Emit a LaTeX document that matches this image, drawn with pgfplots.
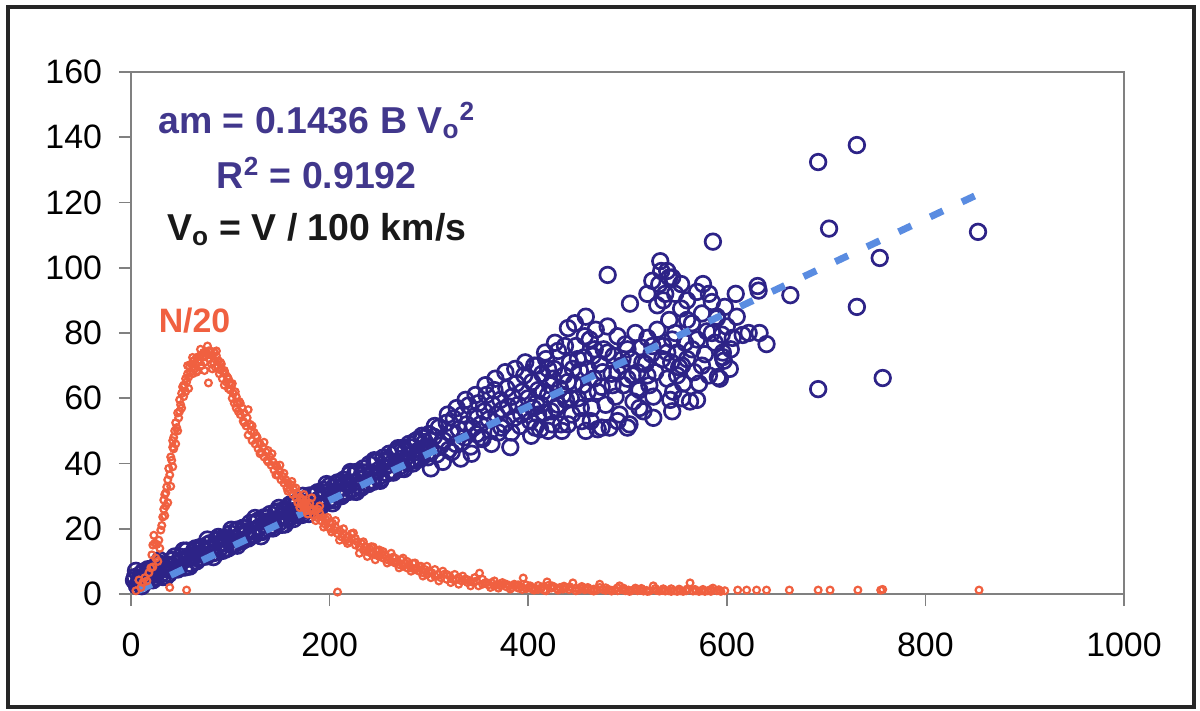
\documentclass[border=0pt]{standalone}
\usepackage{fontspec}
\setmainfont{Liberation Sans}
\usepackage{pgfplots}
\pgfplotsset{compat=1.18}
\definecolor{navy}{RGB}{45,35,135}
\definecolor{coral}{RGB}{240,96,64}
\definecolor{trend}{RGB}{90,140,225}
\definecolor{eqc}{RGB}{65,55,140}
\definecolor{axgray}{RGB}{128,128,128}
\begin{document}
\begin{tikzpicture}
\useasboundingbox (-65.5bp,-58.5bp) rectangle (534.5bp,297bp);
\draw[line width=1.6bp, black!85] (-61.5bp,-56.5bp) rectangle (531.5bp,293.5bp);
\begin{axis}[
 scale only axis, width=496.5bp, height=261bp,
 xmin=0, xmax=1000, ymin=0, ymax=160,
 xtick={0,200,...,1000}, ytick={0,20,...,160},
 tick align=outside, tick pos=left,
 major tick length=6bp,
 axis line style={axgray, line width=0.8bp},
 every tick/.style={axgray, line width=0.8bp},
 tick label style={font=\fontsize{17}{18}\selectfont, black},
 xticklabel style={yshift=-10bp},
 yticklabel style={xshift=-5bp},
 /pgf/number format/assume math mode=true,
 /pgf/number format/1000 sep={},
 clip=false, clip marker paths=true,
]
% blue: am data
\addplot[only marks, mark=o, mark size=3.9bp, navy, line width=1.35bp] coordinates {
(4,5.2) (6,2.5) (8,3.6) (10,6.1) (12,6.8) (14,4.0) (16,4.0) (18,6.9) (20,6.5) (22,4.2)
(24,6.0) (26,9.0) (28,9.5) (30,6.0) (32,5.2) (34,8.0) (36,9.1) (38,6.1) (40,7.2) (42,10.5)
(44,11.5) (46,8.2) (48,8.0) (50,11.4) (52,10.6) (54,8.1) (56,13.3) (58,11.6) (60,9.2) (62,11.2)
(64,13.5) (66,10.0) (68,10.8) (70,14.4) (72,14.2) (74,12.0) (76,11.5) (78,15.3) (80,15.6) (82,12.5)
(84,12.6) (86,16.5) (88,17.5) (90,14.2) (92,13.2) (94,17.2) (96,16.8) (98,14.0) (100,18.5) (102,15.0)
(104,15.2) (106,19.5) (108,19.8) (110,16.5) (112,16.2) (114,20.2) (116,19.2) (118,17.0) (120,21.8) (122,18.4)
(124,18.0) (126,22.0) (128,22.5) (130,19.2) (132,19.0) (134,23.5) (136,22.2) (138,20.0) (140,24.5) (142,21.0)
(144,20.4) (146,25.0) (148,25.3) (150,22.0) (152,21.2) (154,25.8) (156,25.4) (158,23.0) (160,27.4) (162,23.8)
(164,23.0) (166,27.8) (168,28.3) (170,25.0) (172,24.2) (174,29.0) (176,28.0) (178,25.6) (180,30.2) (182,26.8)
(184,26.0) (186,30.6) (188,31.2) (190,27.5) (192,27.2) (194,31.9) (196,31.0) (198,28.5) (200,33.2) (202,29.4)
(204,28.8) (206,33.5) (208,34.2) (210,30.2) (212,30.0) (214,35.0) (216,34.0) (218,31.2) (220,36.6) (222,32.0)
(224,31.4) (226,37.2) (228,37.5) (230,33.0) (232,32.6) (234,38.5) (236,37.2) (238,34.0) (240,39.8) (242,34.8)
(244,34.4) (246,40.5) (248,40.8) (250,36.0) (252,35.4) (254,41.8) (256,40.5) (258,37.0) (260,43.0) (262,37.8)
(264,37.2) (266,43.5) (268,44.0) (270,39.0) (272,38.4) (274,44.8) (276,43.8) (278,40.2) (280,46.0) (282,40.8)
(284,40.0) (286,46.8) (288,47.2) (290,42.0) (292,41.5) (294,47.8) (296,46.6) (298,43.0) (300,49.0) (302,43.5)
(3,4.2) (9,4.8) (15,5.5) (21,6.2) (27,7.0) (33,7.6) (39,8.4) (45,9.3) (51,10.0) (57,10.8)
(63,11.6) (69,12.4) (75,13.2) (81,14.0) (87,14.8) (93,15.6) (99,16.4) (105,17.2) (111,18.0) (117,18.8)
(123,19.6) (129,20.5) (135,21.3) (141,22.1) (147,23.0) (153,23.8) (159,24.6) (165,25.5) (171,26.4) (177,27.2)
(183,28.1) (189,29.0) (195,29.8) (201,30.7) (207,31.6) (213,32.5) (219,33.4) (225,34.3) (231,35.2) (237,36.1)
(243,37.0) (249,37.9) (255,38.8) (261,39.7) (267,40.6) (273,41.5) (279,42.4) (285,43.4) (291,44.3) (297,45.2)
(5,7.1) (11,2.4) (17,7.6) (23,4.9) (29,10.4) (35,5.2) (41,10.3) (47,7.5) (53,13.3) (59,8.4)
(65,14.0) (71,11.2) (77,16.7) (83,11.3) (89,16.8) (95,13.6) (101,19.7) (107,14.8) (113,20.3) (119,17.5)
(125,23.3) (131,17.7) (137,23.3) (143,20.1) (149,26.4) (155,21.3) (161,27.0) (167,24.2) (173,30.1) (179,24.5)
(185,30.2) (191,26.8) (197,33.7) (203,27.8) (209,34.1) (215,30.9) (221,37.4) (227,31.3) (233,37.3) (239,33.7)
(245,41.0) (251,34.7) (257,41.1) (263,37.9) (269,44.7) (275,38.3) (281,45.0) (287,40.9) (293,48.5) (299,41.9)
(305,48.2) (308,42.8) (310,51.0) (312,45.5) (315,47.0) (318,52.5) (320,44.2) (322,49.5) (325,53.8) (327,46.0)
(330,50.5) (332,41.5) (334,55.0) (336,48.0) (338,52.0) (340,57.8) (342,45.2) (344,50.8) (346,54.5) (348,49.0)
(350,58.5) (352,52.0) (354,47.5) (356,56.0) (358,61.0) (360,53.5) (362,50.0) (364,58.0) (366,62.5) (368,55.0)
(370,49.5) (372,59.5) (374,56.5) (376,52.0) (378,63.0) (380,57.5) (382,45.0) (384,60.5) (386,54.0) (388,64.5)
(390,58.0) (392,51.5) (394,62.0) (396,67.0) (398,56.0) (400,60.0) (402,53.0) (404,65.0) (406,70.0) (408,58.5)
(410,62.5) (412,50.5) (414,67.5) (416,55.5) (418,72.0) (420,61.0) (422,64.0) (424,52.0) (426,69.0) (428,57.0)
(430,74.5) (432,63.0) (434,50.0) (436,67.0) (438,59.5) (440,81.5) (442,71.0) (444,55.0) (446,64.5) (448,76.0)
(450,60.0) (452,68.5) (454,53.0) (456,72.5) (458,85.0) (460,62.0) (462,78.0) (464,57.0) (466,66.0) (468,81.0)
(470,50.5) (472,70.5) (474,63.5) (476,75.0) (478,58.0) (480,97.8) (480,82.0) (482,51.0) (484,67.5) (486,73.0)
(488,60.5) (490,79.0) (492,55.0) (494,70.0) (496,64.0) (498,76.5) (500,66.0) (502,52.0) (502.5,89.0) (504,72.0)
(506,59.0) (508,80.0) (510,68.0) (512,62.5) (514,75.5) (516,56.0) (518,70.5) (520,78.5) (522,64.0) (524,73.5)
(526,60.5) (528,68.0) (530,88.5) (532,95.0) (533,102.0) (534,99.0) (536,76.0) (538,92.0) (540,66.0) (542,84.0)
(544,71.0) (545,97.0) (546,62.0) (548,80.0) (550,74.0) (552,69.5) (554,87.5) (556,64.5) (558,77.0) (560,72.0)
(563,59.0) (565,83.0) (567,68.0) (570,92.6) (570,78.0) (572,64.5) (575,86.0) (578,73.5) (580,80.5) (582,67.0)
(585,89.5) (586,108.0) (588,77.0) (590,84.5) (593,66.0) (595,79.5) (597,71.5) (600,82.0) (603,69.0) (606,78.5)
(405,57) (415,62) (425,66) (435,61) (445,69) (455,64) (465,73) (475,68) (485,64) (495,72)
(505,67) (515,71) (525,76) (535,72) (545,78) (555,70) (565,75) (575,70) (585,80) (410,55)
(420,69) (430,58) (440,65) (450,72) (460,69) (470,62) (480,74) (490,68) (500,75) (510,63)
(520,67) (530,81) (540,74) (550,67) (560,84) (407,51) (420,50) (440,52) (458,50) (474,51)
(490,53) (500,51) (512,57) (526,54) (545,56) (555,60) (520,92) (525,96) (536,90) (540,99)
(548,92) (554,95) (560,90) (542,97) (576,95) (582,92) (590,85) (598,88) (604,75) (610,85)
(543,59.5) (570,59.5) (591,66.5) (596,72.6) (596,74.0)
(302,38.5) (306,51.5) (314,40.5) (319,55.0) (323,43.5) (328,57.0) (333,46.5) (337,59.5) (343,43.0) (347,61.0)
(353,48.0) (357,64.0) (363,46.0) (367,66.0) (373,51.0) (377,68.0) (383,49.5) (387,69.0) (393,55.0) (397,71.0)
(403,48.5) (409,70.0) (413,58.0) (417,74.0) (423,56.0) (427,77.0) (433,52.0) (437,76.0) (443,60.0) (447,83.0)
(453,57.0) (457,79.0) (463,53.0) (467,75.0)
(609,92) (622,80) (616,79.4) (633,80) (631,94.4) (632,93) (640,76.6) (664,91.6)
(692,132.4) (731,137.6) (703,112) (754,103) (731,88) (692,62.8) (757,66.2) (853,111)
};
% trend line
\addplot[trend, line width=3.5bp, dash pattern=on 7bp off 10.5bp] coordinates {(8,1.15) (853,122.5)};
% red: N/20
\addplot[only marks, mark=o, mark size=1.7bp, coral, line width=1.1bp] coordinates {
(5,1.0) (8,4.3) (10,2.0) (12,3.5) (14,5.0) (16,4.0) (18,6.5) (20,8.0) (22,8.3) (22,15.0)
(24,15.6) (25,11.0) (26,15.2) (27,10.0) (28,16.5) (30,19.6) (31,21.0) (32,23.6) (33,26.0) (33,28.8)
(34,30.5) (35,27.0) (36,32.8) (37,35.0) (38,38.5) (39,36.5) (39,2.0) (40,42.0) (41,41.0) (42,45.0)
(42,47.0) (43,44.5) (44,50.0) (45,52.5) (46,51.0) (47,55.5) (48,54.0) (49,59.5) (50,58.0) (51,61.5)
(52,63.5) (53,60.5) (54,64.0) (55,66.0) (56,1.2) (56,65.0) (57,67.5) (58,66.5) (59,69.6) (60,68.0)
(61,70.5) (62,67.5) (63,71.5) (64,69.0) (65,70.5) (66,72.5) (67,68.5) (68,71.0) (69,71.7) (70,73.0)
(71,70.0) (72,72.5) (73,74.0) (74,71.0) (75,73.0) (76,73.8) (77,76.0) (78,64.7) (79,72.0) (80,74.5)
(81,70.5) (82,73.0) (83,71.0) (84,74.0) (85,69.5) (86,73.0) (87,70.0) (88,71.5) (89,67.5) (90,68.7)
(91,70.5) (92,66.0) (93,68.0) (94,64.0) (95,67.5) (96,65.0) (97,66.5) (98,63.0) (99,64.5) (100,62.5)
(101,64.0) (102,60.0) (103,61.5) (104,58.5) (105,62.0) (106,57.0) (107,58.5) (108,56.0) (109,59.0) (110,55.0)
(112,57.0) (113,53.0) (114,55.5) (116,51.5) (117,54.0) (118,48.7) (120,52.0) (121,50.0) (122,47.0) (124,49.5)
(125,46.0) (127,48.0) (128,44.5) (130,46.0) (131,43.5) (133,45.0) (134,42.0) (136,43.5) (137,41.0) (138,44.0)
(140,42.0) (141,39.5) (143,40.5) (144,38.0) (146,39.5) (147,39.0) (148,36.5) (150,37.5) (151,35.0) (153,36.0)
(154,34.0) (156,35.0) (157,32.5) (158,34.0) (160,32.0) (161,33.5) (163,30.5) (164,32.0) (166,29.5) (167,31.0)
(168,28.0) (170,29.7) (171,27.5) (173,29.0) (174,26.5) (176,28.0) (177,25.5) (178,27.0) (180,27.8) (181,25.5)
(183,26.0) (184,24.0) (186,25.5) (187,23.5) (188,26.0) (190,24.8) (191,22.5) (193,23.5) (195,21.5) (196,23.0)
(198,20.5) (200,22.0) (201,20.0) (203,21.7) (205,19.5) (206,20.5) (208,0.6) (208,18.5) (210,19.5) (212,17.5)
(214,18.5) (216,16.5) (218,17.5) (220,16.0) (222,17.0) (224,18.7) (226,15.0) (228,16.0) (230,14.5) (232,15.5)
(234,13.5) (236,14.5) (238,13.0) (240,14.0) (242,12.5) (244,14.4) (246,12.0) (248,13.0) (250,11.5) (252,12.5)
(254,11.0) (256,12.0) (258,10.5) (260,11.0) (262,10.0) (264,11.3) (266,9.5) (268,10.0) (270,9.0) (272,10.5)
(274,8.5) (276,9.5) (278,8.0) (280,9.0) (282,8.0) (284,9.4) (286,7.5) (288,8.0) (290,7.0) (292,8.5)
(294,6.5) (296,7.5) (298,6.0) (300,7.0) (303,6.5) (306,5.5) (309,6.0) (312,5.0) (315,6.0) (318,4.5)
(321,5.5) (324,4.5) (327,4.3) (330,5.0) (333,4.0) (336,4.5) (339,3.5) (342,4.0) (345,3.5) (348,4.0)
(351,6.4) (354,3.0) (357,3.5) (360,2.8) (363,3.5) (366,2.5) (369,3.0) (372,2.5) (375,3.0) (378,2.2)
(381,2.6) (384,2.0) (387,2.5) (390,1.8) (393,2.2) (395,4.9) (398,1.6) (401,2.0) (404,1.5) (407,1.8)
(410,1.4) (413,1.7) (416,1.2) (419,3.7) (420,2.6) (423,1.8) (426,2.2) (429,1.6) (432,2.0) (435,1.5)
(438,1.9) (441,1.4) (445,3.4) (448,1.8) (451,1.3) (454,1.7) (457,1.3) (460,1.6) (463,1.2) (466,1.5)
(469,1.2) (472,3.0) (475,1.4) (478,1.1) (481,1.4) (484,1.1) (487,1.3) (490,1.0) (492,2.5) (495,1.3)
(498,1.0) (501,1.2) (504,1.0) (507,1.3) (510,1.0) (513,1.2) (516,0.9) (519,1.1) (522,0.9) (526,2.5)
(529,1.1) (532,0.9) (535,1.1) (538,0.9) (541,1.0) (544,0.8) (547,1.0) (550,0.8) (553,1.0) (556,0.8)
(559,1.0) (563,3.4) (566,0.9) (569,1.0) (572,0.8) (575,1.0) (578,0.8) (581,1.0) (584,0.8) (586,1.8)
(590,1.0) (594,0.8) (598,1.0) (611,1.2) (620,1.2) (630,1.2) (640,1.2) (663,1.2) (692,1.2) (704,1.2)
(732,1.2) (755,1.2) (757,1.4) (854,1.2)
(21,12) (23,18) (29,14) (34,24) (35,31) (37,28) (40,33) (42,39) (43,48) (45,46)
(47,50) (49,56) (51,57) (53,64) (55,62) (57,70) (58,63)
(62,72.5) (66,68.0) (70,75.0) (74,68.5) (78,74.5) (82,69.0) (86,74.5) (90,71.0) (94,68.5) (98,66.0)
(102,64.5) (106,60.5) (110,58.5) (114,52.5) (118,56.5) (122,51.5) (126,48.5) (130,43.0) (134,46.5) (138,40.5)
(142,43.0) (146,36.5) (150,39.5) (154,37.0) (158,31.5) (162,34.5) (166,32.5) (170,26.5) (174,30.5) (178,24.5)
(182,29.5) (186,22.5) (190,27.0) (194,20.5) (198,23.5) (202,19.0) (206,22.5) (210,16.5) (214,20.0) (218,15.5)
(222,18.5) (226,17.0) (230,12.5) (234,16.0) (238,11.5) (242,14.5) (246,10.5) (250,13.5) (254,13.0) (258,9.5)
(262,12.5) (266,11.0) (270,8.0) (274,11.0) (278,10.0) (282,7.0) (286,9.5) (290,8.5) (294,5.5) (298,8.5)
(302,5.0) (306,7.5) (310,4.0) (314,7.0) (318,6.0) (322,3.5) (326,6.0) (330,3.0) (334,5.5) (338,4.5)
(342,2.5) (346,5.0) (350,2.5) (354,4.5) (358,3.5) (362,2.0) (366,4.0) (370,1.8) (374,3.5) (378,3.0)
(382,1.5) (386,3.0) (390,2.8) (394,1.4) (398,2.8) (402,2.5) (406,1.2) (410,2.6) (414,2.2) (418,1.0)
(424,2.5) (430,1.2) (436,2.4) (442,2.2) (448,1.0) (454,2.3) (460,2.0) (466,0.9) (472,2.0) (478,1.9)
(484,0.9) (490,1.9) (496,1.8) (502,0.8) (508,1.8) (514,1.7) (520,0.8) (528,1.7) (536,1.6) (544,1.6)
(552,1.5) (560,1.5) (568,1.4) (576,1.4) (584,1.4) (592,1.3)
};
\node[anchor=base, text=eqc, font=\fontsize{18.8}{20}\bfseries\selectfont] at (axis cs:187,141.3) {am = 0.1436 B V\textsubscript{o}\textsuperscript{2}};
\node[anchor=base, text=eqc, font=\fontsize{18.8}{20}\bfseries\selectfont] at (axis cs:187,124.4) {R\textsuperscript{2} = 0.9192};
\node[anchor=base, text=black!90, font=\fontsize{18.8}{20}\bfseries\selectfont] at (axis cs:187,108.5) {V\textsubscript{o} = V / 100 km/s};
\node[anchor=base, text=coral, font=\fontsize{17}{20}\bfseries\selectfont] at (axis cs:64,80) {N/20};
\end{axis}
\end{tikzpicture}
\end{document}
